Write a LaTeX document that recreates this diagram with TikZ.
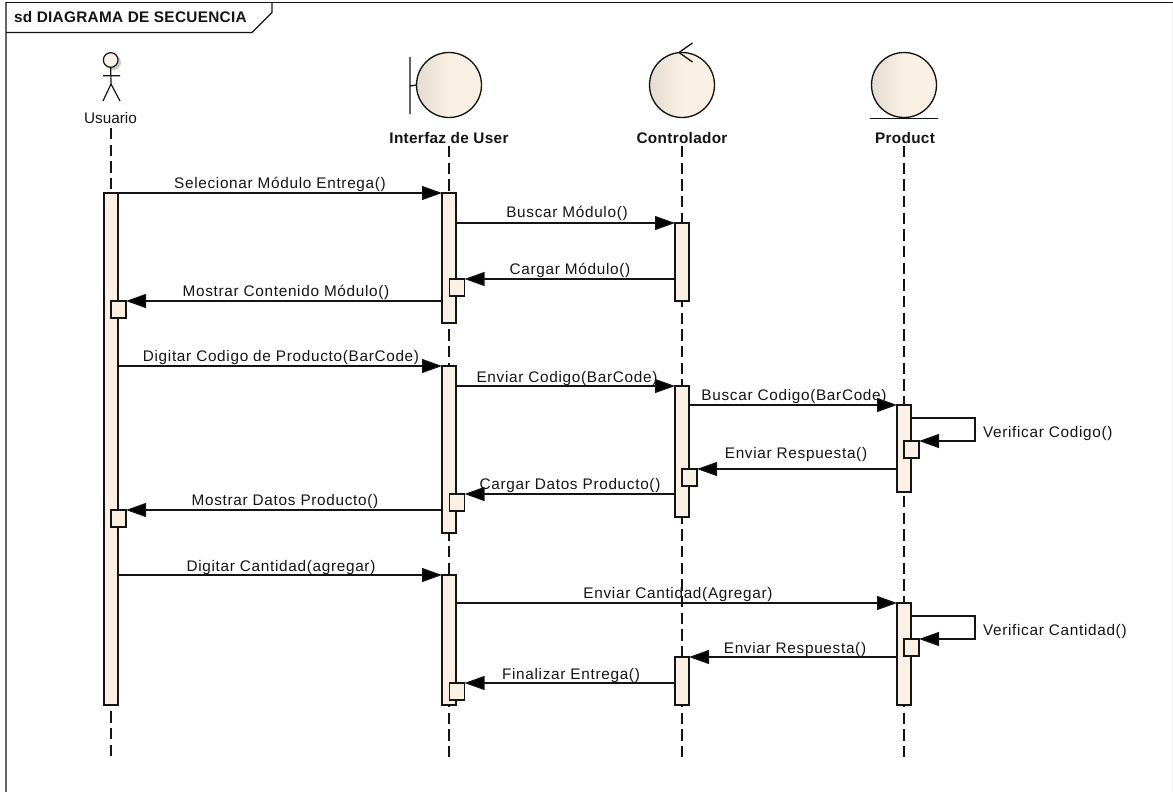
\documentclass[tikz,border=0pt]{standalone}
\usepackage{fontspec}
\setmainfont{Liberation Sans}
\usetikzlibrary{arrows.meta,shadings,calc}
\definecolor{cream}{RGB}{250,240,227}
\definecolor{creamd}{RGB}{228,220,208}
\definecolor{ln}{RGB}{20,20,20}
\tikzset{
 x=0.75pt,y=-0.75pt,
 every node/.style={inner sep=0,outer sep=0},
 bar/.style={draw=ln,fill=cream,line width=1pt,minimum width=10.5pt,anchor=north,rectangle},
 ret/.style={draw=ln,fill=cream,line width=1pt,minimum width=11.25pt,minimum height=12.75pt,anchor=north west,rectangle},
 msg/.style={draw=ln,line width=0.9pt,-{Triangle[length=15pt,width=10.5pt,fill=black]}},
 life/.style={draw=ln,line width=0.9pt,dash pattern=on 8.5pt off 4pt},
 lbl/.style={font=\fontsize{11.5}{13}\selectfont\addfontfeature{LetterSpace=4.5},text=ln,anchor=base},
 head/.style={font=\fontsize{11.5}{13}\selectfont\bfseries\addfontfeature{LetterSpace=2},text=ln,anchor=base},
 ball/.style={circle,draw=ln,line width=1pt,left color=creamd,right color=cream,middle color=cream,minimum size=48.75pt},
}
\begin{document}
\begin{tikzpicture}
\useasboundingbox (0,0) rectangle (1173,792);
\fill[white] (0,0) rectangle (1173,792);
% frame
\coordinate (fa) at (6,2.5); \coordinate (fb) at (1173,2.5); \coordinate (fc) at (6,792);
\draw[black!6,line width=0.75pt] (1172,2.5) -- (1172,792);
\draw[black!60,line width=1pt] (fc) -- (fa);
\draw[ln,line width=0.85pt] (fa) -- (fb);
\draw[ln,line width=0.85pt] (6,32.5) -- (252,32.5) -- (272,12.5) -- (272,2.5);
\node[head,anchor=base west] (title) at (14,23) {sd DIAGRAMA DE SECUENCIA};
% heads
\node[ball] (ih) at (449,85) {};
\node[ball] (ch) at (682,85) {};
\node[ball] (ph) at (904,85) {};
\coordinate (ia) at (410,57); \coordinate (ib) at (410,114); \coordinate (ic) at (410,86);
\draw[ln,line width=1pt] (ia) -- (ib) (ic) -- (ih.west);
\coordinate (ca) at (692.5,43); \coordinate (cb) at (679,52.5); \coordinate (cc) at (692.5,62);
\draw[ln,line width=1pt] (ca) -- (cb) -- (cc);
\coordinate (pa) at (870,118.5); \coordinate (pb) at (938,118.5);
\draw[ln,line width=1pt] (pa) -- (pb);
% actor
\fill[black!22] (113.5,62.5) circle[radius=5.6pt];
\node[circle,draw=ln,line width=0.9pt,fill=cream,minimum size=11pt] (uh) at (110.7,60) {};
\coordinate (ub) at (111,84); \coordinate (ul) at (103,101); \coordinate (ur) at (120,101);
\coordinate (ua) at (103,75.7); \coordinate (uc) at (120,75.7);
\draw[ln,line width=0.9pt] (uh.south) -- (ub) (ua) -- (uc) (ul) -- (ub) -- (ur);
\node[lbl,font=\fontsize{11.5}{13}\selectfont] (ulbl) at (110.5,123.5) {Usuario};
\node[head] (ilbl) at (449,143) {Interfaz de User};
\node[head] (clbl) at (682,143) {Controlador};
\node[head] (plbl) at (905,143) {Product};
% lifelines
\coordinate (uend) at (111,759);\coordinate (iend) at (449,759);\coordinate (cend) at (682,759);\coordinate (pend) at (904,759);
\coordinate (us) at (111,128);\coordinate (is) at (449,146);\coordinate (cs) at (682,146);\coordinate (ps) at (904,146);
\draw[life] (us) -- (uend);
\draw[life] (is) -- (iend);
\draw[life] (cs) -- (cend);
\draw[life] (ps) -- (pend);
% activations
\node[bar,minimum height=384pt] (u1) at (111,193) {};
\node[bar,minimum height=97.5pt] (i1) at (449,193) {};
\node[bar,minimum height=58.5pt] (c1) at (682,223) {};
\node[bar,minimum height=125.25pt] (i2) at (449,366) {};
\node[bar,minimum height=98.25pt] (c2) at (682,386) {};
\node[bar,minimum height=65.25pt] (p1) at (904,405) {};
\node[bar,minimum height=97.5pt] (i3) at (449,575) {};
\node[bar,minimum height=76.5pt] (p2) at (904,603) {};
\node[bar,minimum height=36pt] (c3) at (682,657) {};
% return squares
\node[ret] (ur1) at (111,301) {};
\node[ret] (ir1) at (449.5,279) {};
\node[ret] (ur2) at (111,510) {};
\node[ret] (ir2) at (449.5,494) {};
\node[ret] (cr1) at (682,469) {};
\node[ret] (pr1) at (904,441) {};
\node[ret] (pr2) at (904,639) {};
\node[ret] (ir3) at (449.5,683) {};
% message levels
\foreach \n/\y in {m1/193,m2/223,m3/279,m4/301,m5/366,m6/386,m7/405,m9/469,m10/494,m11/510,m12/575,m13/603,m15/657,m16/683,l1/418,l2/616}
  \coordinate (\n) at (0,\y);
\tikzset{gap/.style={shorten <=1pt}}
\draw[msg,gap] (u1.east |- m1) -- (i1.north west);
\draw[msg,gap] (i1.east |- m2) -- (c1.north west);
\draw[msg] (c1.west |- m3) -- (ir1.north east);
\draw[msg] (i1.west |- m4) -- (ur1.north east);
\draw[msg,gap] (u1.east |- m5) -- (i2.north west);
\draw[msg,gap] (i2.east |- m6) -- (c2.north west);
\draw[msg,gap] (c2.east |- m7) -- (p1.north west);
\draw[msg] (p1.west |- m9) -- (cr1.north east);
\draw[msg] (c2.west |- m10) -- (ir2.north east);
\draw[msg] (i2.west |- m11) -- (ur2.north east);
\draw[msg,gap] (u1.east |- m12) -- (i3.north west);
\draw[msg,gap] (i3.east |- m13) -- (p2.north west);
\draw[msg] (p2.west |- m15) -- (c3.north east);
\draw[msg] (c3.west |- m16) -- (ir3.north east);
\coordinate (s1) at (975,418); \coordinate (s2) at (975,441);
\draw[msg,gap] (p1.east |- l1) -- (s1) -- (s2) -- (pr1.north east);
\coordinate (s3) at (975,616); \coordinate (s4) at (975,639);
\draw[msg,gap] (p2.east |- l2) -- (s3) -- (s4) -- (pr2.north east);
% labels
\node[lbl] at (280,188) {Selecionar Módulo Entrega()};
\node[lbl] at (567,217) {Buscar Módulo()};
\node[lbl] at (570,274) {Cargar Módulo()};
\node[lbl] at (286,296) {Mostrar Contenido Módulo()};
\node[lbl] at (281,361) {Digitar Codigo de Producto(BarCode)};
\node[lbl] at (567,382) {Enviar Codigo(BarCode)};
\node[lbl] at (794,400) {Buscar Codigo(BarCode)};
\node[lbl,anchor=base west] at (983,437) {Verificar Codigo()};
\node[lbl] at (796,458) {Enviar Respuesta()};
\node[lbl] at (570,489) {Cargar Datos Producto()};
\node[lbl] at (285,505) {Mostrar Datos Producto()};
\node[lbl] at (281,571) {Digitar Cantidad(agregar)};
\node[lbl] at (678,598) {Enviar Cantidad(Agregar)};
\node[lbl,anchor=base west] at (983,635) {Verificar Cantidad()};
\node[lbl] at (795,653) {Enviar Respuesta()};
\node[lbl] at (571,679) {Finalizar Entrega()};
\end{tikzpicture}
\end{document}
